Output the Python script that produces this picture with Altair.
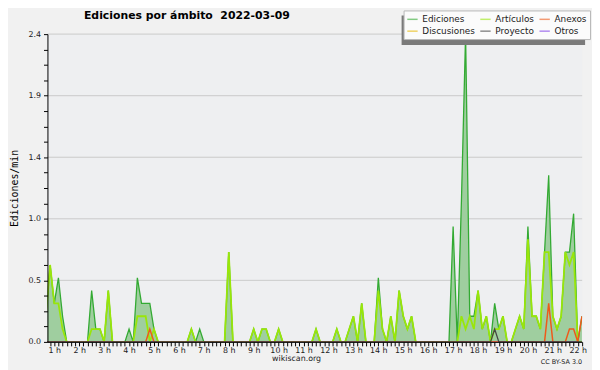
import altair as alt
import pandas as pd

# 10-minute bins (k = -1 .. 128); hour of each bin
bin_index = list(range(-1, 129))
hours = [(k + 5) / 6 for k in bin_index]

# legend order (column-major, 2 rows): Ediciones/Discusiones, Artículos/Proyecto, Anexos/Otros
series_names = ["Ediciones", "Discusiones", "Artículos", "Proyecto", "Anexos", "Otros"]
line_colors = ["#33aa33", "#e8b800", "#99e60a", "#444444", "#ee5a1a", "#8040e8"]
draw_order = ["Discusiones", "Otros", "Ediciones", "Artículos", "Anexos", "Proyecto"]
line_widths = {"Discusiones": 1.3, "Otros": 1.3, "Ediciones": 1.3,
               "Artículos": 1.8, "Anexos": 1.5, "Proyecto": 1.3}

ediciones = [
    0.2, 0.6, 0.3, 0.5, 0.2, 0, 0, 0, 0, 0,
    0, 0.4, 0.1, 0.1, 0, 0.4, 0, 0, 0, 0,
    0.1, 0, 0.5, 0.3, 0.3, 0.3, 0.1, 0, 0, 0,
    0, 0, 0, 0, 0, 0.1, 0, 0.1, 0, 0,
    0, 0, 0, 0, 0.7, 0, 0, 0, 0, 0,
    0.1, 0, 0.1, 0.1, 0, 0, 0.1, 0, 0, 0,
    0, 0, 0, 0, 0, 0.1, 0, 0, 0, 0,
    0.1, 0, 0, 0.1, 0.2, 0, 0.3, 0, 0, 0,
    0.5, 0.1, 0, 0.2, 0, 0.4, 0.2, 0.1, 0.2, 0,
    0, 0, 0, 0, 0, 0, 0, 0, 0.9, 0,
    1.1, 2.4, 0.2, 0.2, 0.4, 0.1, 0.2, 0, 0.3, 0.1,
    0.2, 0, 0, 0.1, 0.2, 0.1, 0.9, 0.2, 0.2, 0.1,
    0.7, 1.3, 0.2, 0.1, 0.2, 0.7, 0.7, 1.0, 0, 0.2,
]
articulos = [
    0.2, 0.6, 0.3, 0.3, 0.1, 0, 0, 0, 0, 0,
    0, 0.1, 0.1, 0.1, 0, 0.4, 0, 0, 0, 0,
    0, 0, 0.2, 0.2, 0.2, 0, 0.1, 0, 0, 0,
    0, 0, 0, 0, 0, 0.1, 0, 0, 0, 0,
    0, 0, 0, 0, 0.7, 0, 0, 0, 0, 0,
    0.1, 0, 0.1, 0.1, 0, 0, 0.1, 0, 0, 0,
    0, 0, 0, 0, 0, 0.1, 0, 0, 0, 0,
    0.1, 0, 0, 0.1, 0.2, 0, 0.3, 0, 0, 0,
    0.4, 0.1, 0, 0.2, 0, 0.4, 0.2, 0.1, 0.2, 0,
    0, 0, 0, 0, 0, 0, 0, 0, 0, 0,
    0.2, 0.1, 0.2, 0.1, 0.4, 0.1, 0.2, 0, 0.1, 0.1,
    0.2, 0, 0, 0.1, 0.2, 0.1, 0.8, 0.2, 0.2, 0.1,
    0.7, 0.7, 0.2, 0.1, 0.2, 0.7, 0.6, 0.7, 0, 0,
]
anexos = [
    0, 0, 0, 0, 0, 0, 0, 0, 0, 0,
    0, 0, 0, 0, 0, 0, 0, 0, 0, 0,
    0, 0, 0, 0, 0, 0.1, 0, 0, 0, 0,
    0, 0, 0, 0, 0, 0, 0, 0, 0, 0,
    0, 0, 0, 0, 0, 0, 0, 0, 0, 0,
    0, 0, 0, 0, 0, 0, 0, 0, 0, 0,
    0, 0, 0, 0, 0, 0, 0, 0, 0, 0,
    0, 0, 0, 0, 0, 0, 0, 0, 0, 0,
    0, 0, 0, 0, 0, 0, 0, 0, 0, 0,
    0, 0, 0, 0, 0, 0, 0, 0, 0, 0,
    0, 0, 0, 0, 0, 0, 0, 0, 0, 0,
    0, 0, 0, 0, 0, 0, 0, 0, 0, 0,
    0, 0.3, 0, 0, 0, 0, 0.1, 0.1, 0, 0.2,
]
proyecto = [
    0, 0, 0, 0, 0, 0, 0, 0, 0, 0,
    0, 0, 0, 0, 0, 0, 0, 0, 0, 0,
    0, 0, 0, 0, 0, 0, 0, 0, 0, 0,
    0, 0, 0, 0, 0, 0, 0, 0, 0, 0,
    0, 0, 0, 0, 0, 0, 0, 0, 0, 0,
    0, 0, 0, 0, 0, 0, 0, 0, 0, 0,
    0, 0, 0, 0, 0, 0, 0, 0, 0, 0,
    0, 0, 0, 0, 0, 0, 0, 0, 0, 0,
    0, 0, 0, 0, 0, 0, 0, 0, 0, 0,
    0, 0, 0, 0, 0, 0, 0, 0, 0, 0,
    0, 0, 0, 0, 0, 0, 0, 0, 0.1, 0,
    0, 0, 0, 0, 0, 0, 0, 0, 0, 0,
    0, 0, 0, 0, 0, 0, 0, 0, 0, 0,
]
discusiones = [0.0] * len(hours)
otros = [0.0] * len(hours)

y_ticks = [i * 0.12 for i in range(21)]
y_major = [0.48, 0.96, 1.44, 1.92, 2.4]
x_ticks = hours[1:]

title_text = "Ediciones por ámbito \u00a02022-03-09"
license_text = "CC BY-SA 3.0"

values = {"Ediciones": ediciones, "Artículos": articulos, "Anexos": anexos,
          "Discusiones": discusiones, "Proyecto": proyecto, "Otros": otros}
rows = []
for name in series_names:
    for t, v in zip(hours, values[name]):
        rows.append({"t": t, "serie": name, "v": v})
df = pd.DataFrame(rows)
df_grid = pd.DataFrame({"v": y_major})
df_one = pd.DataFrame({"a": [0]})

FONT = "DejaVu Sans"

x_enc = alt.X(
    "t:Q",
    scale=alt.Scale(domain=[0.727, 22.175], nice=False, zero=False),
    axis=alt.Axis(
        values=x_ticks,
        labelExpr="abs(datum.value - round(datum.value)) < 0.001 ? round(datum.value) + ' h' : ''",
        labelOverlap=False, labelFlush=False, labelFont=FONT, labelFontSize=8,
        labelColor="#222222", labelPadding=1, tickSize=4, tickColor="black",
        domainColor="black", grid=False, zindex=1,
        title="wikiscan.org", titleFont=FONT, titleFontSize=8, titleFontWeight="normal",
        titleColor="#222222", titleX=252, titleY=13, titleBaseline="top", titleAlign="center",
    ),
)
y_enc = alt.Y(
    "v:Q",
    scale=alt.Scale(domain=[0, 2.4], nice=False),
    axis=alt.Axis(
        values=y_ticks,
        labelExpr="abs(datum.value/0.48 - round(datum.value/0.48)) < 0.01 ? format(datum.value, '.1f') : ''",
        labelOverlap=False, labelFont=FONT, labelFontSize=8, labelColor="#222222",
        labelPadding=3, tickSize=4, tickColor="black", domainColor="black",
        grid=False, zindex=1,
        title="Ediciones/min", titleFont="DejaVu Sans Mono", titleFontSize=10,
        titleFontWeight="normal", titleColor="black", titleX=-33, titleBaseline="middle",
    ),
)
color_enc = alt.Color(
    "serie:N",
    scale=alt.Scale(domain=series_names, range=line_colors),
    legend=alt.Legend(
        title=None, orient="none", legendX=361, legendY=-24, columns=3,
        symbolType="stroke", symbolSize=110, symbolStrokeWidth=1.5, symbolOpacity=0.6,
        labelFont=FONT, labelFontSize=9, labelColor="#222222", labelOffset=4,
        columnPadding=1, rowPadding=1, padding=3, fillColor="#fbfbfb",
        strokeColor="#b8b8b8", cornerRadius=0, zindex=2,
    ),
)

grid = alt.Chart(df_grid).mark_rule(color="#cacaca", strokeWidth=1).encode(y=y_enc)

area = alt.Chart(df).transform_filter(alt.datum.serie == "Ediciones").mark_area(
    color="#9fce9f", opacity=1, clip=True, interpolate="linear"
).encode(x=x_enc, y=y_enc)

line_layers = []
for name in draw_order:
    line_layers.append(
        alt.Chart(df).transform_filter(alt.datum.serie == name).mark_line(
            clip=True, strokeWidth=line_widths[name], interpolate="linear"
        ).encode(x=x_enc, y=y_enc, color=color_enc)
    )

shadow = alt.Chart(df_one).mark_rect(color="#7a7a7a").encode(
    x=alt.value(359), x2=alt.value(545), y=alt.value(-19), y2=alt.value(11)
)
title = alt.Chart(df_one).mark_text(
    text=title_text, font=FONT, fontSize=11, fontWeight="bold", color="black",
    align="left", baseline="alphabetic"
).encode(x=alt.value(37), y=alt.value(-15))
cc = alt.Chart(df_one).mark_text(
    text=license_text, font=FONT, fontSize=6.5, color="#222222",
    align="right", baseline="alphabetic"
).encode(x=alt.value(542), y=alt.value(334))

chart = alt.layer(grid, area, *line_layers, shadow, title, cc).properties(
    width=542, height=312,
    autosize=alt.AutoSizeParams(type="none"),
    padding={"left": 40, "top": 24, "right": 10, "bottom": 26},
).configure(background="#f1f1f1").configure_view(fill="#eeeff1", strokeWidth=0)

chart.save("out.html", embed_options={"renderer": "svg", "actions": False})
